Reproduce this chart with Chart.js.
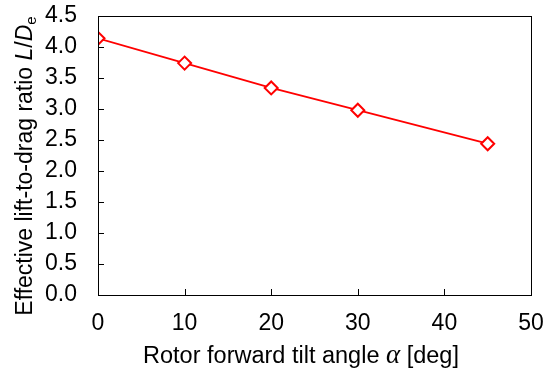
<!DOCTYPE html>
<html>
<head>
<meta charset="utf-8">
<script src="https://cdn.jsdelivr.net/npm/chart.js@4.4.1/dist/chart.umd.min.js"></script>
<style>
  html, body { margin: 0; padding: 0; background: #fff; }
  #wrap { width: 547px; height: 372px; }
</style>
</head>
<body>
<div id="wrap"><canvas id="graph" width="547" height="372"></canvas></div>
<script>
// data
const tiltAngles = [0, 10, 20, 30, 45];
const liftToDrag = [4.14, 3.74, 3.34, 2.98, 2.44];
const xTicks = [0, 10, 20, 30, 40, 50];
const yTicks = [0.0, 0.5, 1.0, 1.5, 2.0, 2.5, 3.0, 3.5, 4.0, 4.5];

const FONT = '"Liberation Sans", Arial, sans-serif';
const SERIF = '"Liberation Serif", "Times New Roman", serif';
const RED = '#ff0000';

// box around the plot, inward ticks and the axis titles with mixed styles
const framePlugin = {
  id: 'frame',
  afterDraw(chart) {
    const ctx = chart.ctx;
    const a = chart.chartArea;
    const xs = chart.scales.x, ys = chart.scales.y;
    ctx.save();
    ctx.strokeStyle = '#000';
    ctx.lineWidth = 1;
    ctx.strokeRect(Math.round(a.left) + 0.5, Math.round(a.top) + 0.5,
      Math.round(a.right - a.left), Math.round(a.bottom - a.top));
    ctx.beginPath();
    xTicks.slice(1, -1).forEach(v => {
      const px = Math.round(xs.getPixelForValue(v)) + 0.5;
      ctx.moveTo(px, a.bottom);
      ctx.lineTo(px, a.bottom - 6);
    });
    yTicks.slice(1, -1).forEach(v => {
      const py = Math.round(ys.getPixelForValue(v)) + 0.5;
      ctx.moveTo(a.left, py);
      ctx.lineTo(a.left + 6, py);
    });
    ctx.stroke();

    ctx.fillStyle = '#000';
    ctx.textBaseline = 'alphabetic';

    // x title
    const xParts = [
      { t: 'Rotor forward tilt angle ', f: '23.5px ' + FONT },
      { t: 'α', f: 'italic 27px ' + SERIF },
      { t: ' [deg]', f: '23.5px ' + FONT }
    ];
    drawParts(ctx, xParts, 301, 363);

    // y title, rotated
    ctx.translate(32, 166);
    ctx.rotate(-Math.PI / 2);
    const yParts = [
      { t: 'Effective lift-to-drag ratio ', f: '23px ' + FONT },
      { t: 'L', f: 'italic 23px ' + FONT },
      { t: '/', f: '23px ' + FONT },
      { t: 'D', f: 'italic 23px ' + FONT },
      { t: 'e', f: '15px ' + FONT, dy: 4 }
    ];
    drawParts(ctx, yParts, 0, 0);
    ctx.restore();
  }
};

function drawParts(ctx, parts, cx, y) {
  let total = 0;
  parts.forEach(p => { ctx.font = p.f; total += ctx.measureText(p.t).width; });
  let x = cx - total / 2;
  parts.forEach(p => {
    ctx.font = p.f;
    ctx.textAlign = 'left';
    ctx.fillText(p.t, x, y + (p.dy || 0));
    x += ctx.measureText(p.t).width;
  });
}

const graph = document.getElementById('graph');

let myChart = new Chart(graph, {
  type: 'scatter',
  data: {
    datasets: [{
      data: tiltAngles.map((a, i) => ({ x: a, y: liftToDrag[i] })),
      showLine: true,
      borderColor: RED,
      borderWidth: 1.8,
      pointStyle: 'rectRot',
      pointRadius: 6.5,
      pointBorderWidth: 2,
      pointBorderColor: RED,
      pointBackgroundColor: '#fff',
      tension: 0
    }]
  },
  options: {
    responsive: false,
    animation: false,
    devicePixelRatio: 1,
    plugins: { legend: { display: false }, tooltip: { enabled: false } },
    layout: { padding: { left: 0, top: 16, right: 16, bottom: 0 } },
    scales: {
      x: {
        type: 'linear',
        min: 0, max: 50,
        afterFit: s => { s.height = 77; s.paddingLeft = 0; s.paddingRight = 0; },
        afterBuildTicks: s => { s.ticks = xTicks.map(v => ({ value: v })); },
        grid: { display: false, drawTicks: false },
        border: { display: false },
        ticks: {
          padding: 15,
          color: '#000',
          font: { size: 23, family: FONT },
          maxRotation: 0
        }
      },
      y: {
        type: 'linear',
        min: 0, max: 4.5,
        afterFit: s => { s.width = 98; s.paddingTop = 0; s.paddingBottom = 0; },
        afterBuildTicks: s => { s.ticks = yTicks.map(v => ({ value: v })); },
        grid: { display: false, drawTicks: false },
        border: { display: false },
        ticks: {
          padding: 21,
          color: '#000',
          font: { size: 23, family: FONT },
          callback: v => v.toFixed(1)
        }
      }
    }
  },
  plugins: [framePlugin]
});
</script>
</body>
</html>
